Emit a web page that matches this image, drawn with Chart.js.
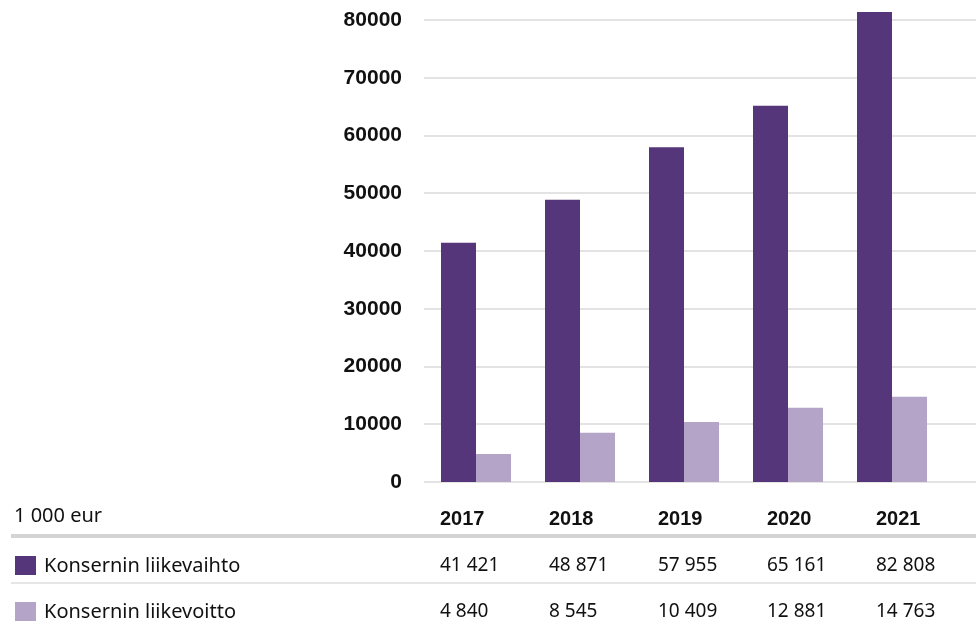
<!DOCTYPE html>
<html>
<head>
<meta charset="utf-8">
<script src="https://cdn.jsdelivr.net/npm/chart.js@4.4.1/dist/chart.umd.min.js"></script>
<style>
  html, body { margin: 0; padding: 0; background: #ffffff; }
  #wrap { width: 976px; height: 627px; }
</style>
</head>
<body>
<div id="wrap"><canvas id="c" width="976" height="627"></canvas></div>
<script>
const categories = ['2017', '2018', '2019', '2020', '2021'];
const liikevaihto = [41421, 48871, 57955, 65161, 82808];
const liikevoitto = [4840, 8545, 10409, 12881, 14763];
const seriesNames = ['Konsernin liikevaihto', 'Konsernin liikevoitto'];
const unitLabel = '1 000 eur';
const yTickValues = [0, 10000, 20000, 30000, 40000, 50000, 60000, 70000, 80000];
const yMax = 81400;

const COLORS = ['#56367a', '#b4a4c8'];
const GRID = '#e3e3e3';
const TEXT = '#111111';
const TABLE_FONT = '"Noto Sans", "Liberation Sans", sans-serif';
const BOLD_FONT = '"Liberation Sans", Arial, sans-serif';

function fmt(v) {
  return String(v).replace(/\B(?=(\d{3})+(?!\d))/g, ' ');
}

const gridPlugin = {
  id: 'fullGrid',
  beforeDatasetsDraw(chart) {
    const ctx = chart.ctx, y = chart.scales.y, area = chart.chartArea;
    ctx.save();
    ctx.strokeStyle = GRID;
    ctx.lineWidth = 2;
    y.ticks.forEach(t => {
      const py = Math.round(y.getPixelForValue(t.value));
      ctx.beginPath();
      ctx.moveTo(area.left, py);
      ctx.lineTo(chart.width, py);
      ctx.stroke();
    });
    ctx.restore();
  }
};

const tablePlugin = {
  id: 'dataTable',
  afterDraw(chart) {
    const ctx = chart.ctx, x = chart.scales.x;
    const W = chart.width;
    const colX = categories.map((c, i) => x.getPixelForValue(i) - 36 + i * 5);
    ctx.save();
    ctx.textBaseline = 'middle';
    ctx.textAlign = 'left';
    ctx.fillStyle = TEXT;
    // header row
    ctx.font = '20px ' + TABLE_FONT;
    ctx.fillText(unitLabel, 14, 516);
    ctx.font = 'bold 20px ' + BOLD_FONT;
    categories.forEach((c, i) => ctx.fillText(c, colX[i], 519));
    // thick separator
    ctx.fillStyle = '#d4d4d4';
    ctx.fillRect(11, 534, W - 11, 4);
    // thin separator
    ctx.fillStyle = '#e6e6e6';
    ctx.fillRect(11, 582, W - 11, 2);
    // rows
    const rows = [liikevaihto, liikevoitto];
    const rowY = [566, 612];
    rows.forEach((vals, r) => {
      ctx.fillStyle = COLORS[r];
      ctx.fillRect(15, rowY[r] - 10, 21, 19);
      ctx.fillStyle = TEXT;
      ctx.font = '20px ' + TABLE_FONT;
      ctx.fillText(seriesNames[r], 44, rowY[r]);
      ctx.font = '19px ' + TABLE_FONT;
      vals.forEach((v, i) => ctx.fillText(fmt(v), colX[i], rowY[r]));
    });
    ctx.restore();
  }
};

new Chart(document.getElementById('c'), {
  type: 'bar',
  data: {
    labels: categories,
    datasets: [
      { label: seriesNames[0], data: liikevaihto, backgroundColor: COLORS[0], borderWidth: 0 },
      { label: seriesNames[1], data: liikevoitto, backgroundColor: COLORS[1], borderWidth: 0 }
    ]
  },
  options: {
    responsive: false,
    animation: false,
    devicePixelRatio: 1,
    layout: { padding: { top: 12, right: 32, bottom: 145, left: 0 } },
    datasets: { bar: { barPercentage: 1.0, categoryPercentage: 0.673 } },
    plugins: { legend: { display: false }, tooltip: { enabled: false } },
    scales: {
      x: { display: false },
      y: {
        min: 0,
        max: yMax,
        border: { display: false },
        grid: { display: false, drawTicks: false },
        afterBuildTicks(scale) { scale.ticks = yTickValues.map(v => ({ value: v })); },
        afterFit(scale) { scale.width = 424; scale.paddingTop = 0; scale.paddingBottom = 0; },
        ticks: {
          padding: 22,
          color: TEXT,
          font: { family: BOLD_FONT, size: 21, weight: 'bold' },
          callback: (v) => String(v)
        }
      }
    }
  },
  plugins: [gridPlugin, tablePlugin]
});
</script>
</body>
</html>
